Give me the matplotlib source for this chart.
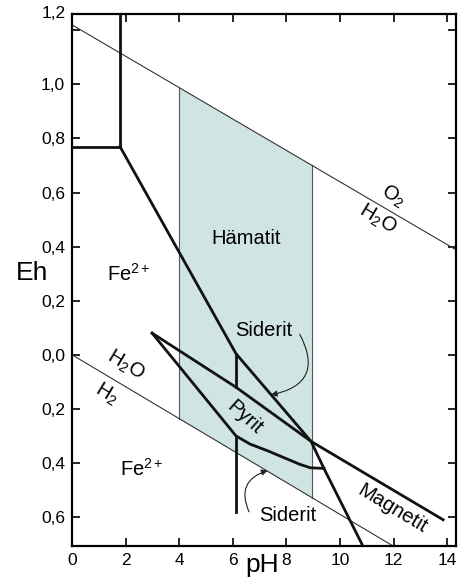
import matplotlib
matplotlib.use("Agg")
import matplotlib.pyplot as plt
from matplotlib.patches import FancyArrowPatch
import numpy as np

plt.rcParams['font.family'] = ['Liberation Sans', 'DejaVu Sans']
plt.rcParams['mathtext.fontset'] = 'custom'
plt.rcParams['mathtext.rm'] = 'Liberation Sans'
plt.rcParams['mathtext.it'] = 'Liberation Sans'
plt.rcParams['mathtext.bf'] = 'Liberation Sans:bold'

# ---- data (pH, Eh) ----
o2_ph = [0.0, 14.3]
o2_eh = [1.22, 0.39]
h2_ph = [0.0, 12.0]
h2_eh = [0.0, -0.708]

hem_ph_lo, hem_ph_hi = 4.0, 8.96  # shaded Hämatit field bounds

fe3_ph = [0.0, 1.79, 1.79]
fe3_eh = [0.77, 0.77, 1.26]

fe2_hem_ph = [1.79, 6.12, 8.92, 9.40, 10.86]
fe2_hem_eh = [0.77, 0.004, -0.32, -0.42, -0.708]

vert_up_ph = [6.12, 6.12]
vert_up_eh = [0.004, -0.12]
vert_lo_ph = [6.12, 6.12]
vert_lo_eh = [-0.30, -0.58]

pyr_up_ph = [2.99, 6.12, 8.92, 13.85]
pyr_up_eh = [0.08, -0.12, -0.32, -0.61]

pyr_lo_ph = [2.99, 6.12, 6.64, 7.3, 7.9, 8.5, 8.9, 9.4]
pyr_lo_eh = [0.08, -0.30, -0.33, -0.355, -0.38, -0.405, -0.418, -0.42]

xticks = [0, 2, 4, 6, 8, 10, 12, 14]
yticks = [-0.6, -0.4, -0.2, 0.0, 0.2, 0.4, 0.6, 0.8, 1.0, 1.2]
ytick_labels = ["0,6", "0,4", "0,2", "0,0", "0,2", "0,4", "0,6", "0,8", "1,0", ""]

fig = plt.figure(figsize=(4.69, 5.86), dpi=100)
ax = fig.add_axes([72/469, 1-546/586, (456-72)/469, (546-14)/586])
ax.set_xlim(0, 14.33)
ax.set_ylim(-0.707, 1.26)

def o2(p):
    return np.interp(p, o2_ph, o2_eh)
def h2(p):
    return np.interp(p, h2_ph, h2_eh)
px = np.array([hem_ph_lo, hem_ph_hi])
ax.fill_between(px, h2(px), o2(px), color='#cfe4e3', lw=0, zorder=0)
ax.plot([hem_ph_lo, hem_ph_lo], [h2(hem_ph_lo), o2(hem_ph_lo)], color='#555555', lw=0.8, zorder=1)
ax.plot([hem_ph_hi, hem_ph_hi], [h2(hem_ph_hi), o2(hem_ph_hi)], color='#555555', lw=0.8, zorder=1)

ax.plot(o2_ph, o2_eh, color='#333333', lw=0.8, zorder=2)
ax.plot(h2_ph, h2_eh, color='#333333', lw=0.8, zorder=2)

thick = dict(color='#111111', lw=2.0, solid_joinstyle='miter', zorder=3)
ax.plot(fe3_ph, fe3_eh, **thick)
ax.plot(fe2_hem_ph, fe2_hem_eh, **thick)
ax.plot(vert_up_ph, vert_up_eh, **thick)
ax.plot(vert_lo_ph, vert_lo_eh, **thick)
ax.plot(pyr_up_ph, pyr_up_eh, **thick)
ax.plot(pyr_lo_ph, pyr_lo_eh, **thick)

fs = 14.5
ax.text(6.5, 0.43, "Hämatit", fontsize=fs, ha='center', va='center')
ax.text(2.1, 0.30, "Fe$^{2+}$", fontsize=fs, ha='center', va='center')
ax.text(2.6, -0.42, "Fe$^{2+}$", fontsize=fs, ha='center', va='center')
ax.text(7.15, 0.09, "Siderit", fontsize=fs, ha='center', va='center')
ax.text(8.05, -0.595, "Siderit", fontsize=fs, ha='center', va='center')
ax.text(6.45, -0.23, "Pyrit", fontsize=fs, ha='center', va='center', rotation=-42)
ax.text(11.95, -0.57, "Magnetit", fontsize=fs, ha='center', va='center', rotation=-31)
ax.text(12.0, 0.585, "O$_2$", fontsize=fs, ha='center', va='center', rotation=-31)
ax.text(11.4, 0.50, "H$_2$O", fontsize=fs, ha='center', va='center', rotation=-31)
ax.text(2.0, -0.04, "H$_2$O", fontsize=fs, ha='center', va='center', rotation=-31)
ax.text(1.3, -0.145, "H$_2$", fontsize=fs, ha='center', va='center', rotation=-31)

a1 = FancyArrowPatch((8.45, 0.085), (7.32, -0.15), connectionstyle="arc3,rad=-0.7",
                     arrowstyle='-|>', mutation_scale=9, lw=0.8, color='#222222', zorder=4)
ax.add_patch(a1)
a2 = FancyArrowPatch((6.65, -0.59), (7.4, -0.425), connectionstyle="arc3,rad=-0.6",
                     arrowstyle='-|>', mutation_scale=9, lw=0.8, color='#222222', zorder=4)
ax.add_patch(a2)

for s in ax.spines.values():
    s.set_linewidth(1.6)
ax.set_xticks(xticks)
ax.set_xticklabels([str(v) for v in xticks])
ax.set_yticks(yticks)
ax.set_yticklabels(ytick_labels)
ax.tick_params(direction='in', length=6, width=1.2, labelsize=12.5, pad=5,
               top=True, right=True)
ax.text(-0.015, 1.0, "1,2", transform=ax.transAxes, fontsize=12.5, ha='right', va='center')

fig.text(32/469, 1-273/586, "Eh", fontsize=19, ha='center', va='center')
fig.text(262/469, 1-565/586, "pH", fontsize=19, ha='center', va='center')

fig.savefig("out.png", dpi=100, facecolor='white')
